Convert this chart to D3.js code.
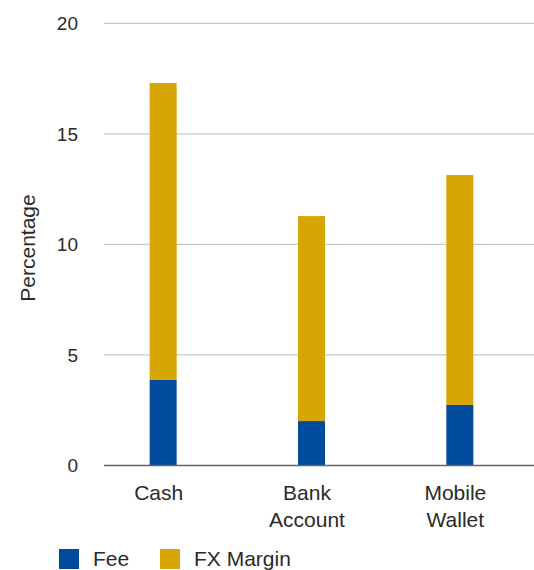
<!DOCTYPE html>
<html>
<head>
<meta charset="utf-8">
<script src="https://cdn.jsdelivr.net/npm/d3@7"></script>
<style>
  html, body { margin: 0; padding: 0; background: #fff; }
  svg { display: block; }
  text { font-family: "Liberation Sans", Arial, sans-serif; fill: #2a2a2a; }
</style>
</head>
<body>
<svg id="chart" width="534" height="570"></svg>
<script>
// Cost of sending remittances, by channel (percentage of amount sent)
const categories = [["Cash"], ["Bank", "Account"], ["Mobile", "Wallet"]];
const fee = [3.87, 2.01, 2.74];
const fxMargin = [13.43, 9.27, 10.40];
const yTicks = [0, 5, 10, 15, 20];
const seriesNames = ["Fee", "FX Margin"];
const seriesColors = ["#004b9b", "#d6a604"];

const svg = d3.select("#chart");
const keys = categories.map(c => c.join(" "));

const x = d3.scaleBand()
  .domain(keys)
  .range([89, 534])
  .paddingInner(0.818)
  .paddingOuter(0.409);

const y = d3.scaleLinear().domain([0, 20]).range([465.5, 23.3]);

// Horizontal gridlines
svg.append("g")
  .selectAll("line")
  .data(yTicks.filter(t => t > 0))
  .join("line")
  .attr("x1", 104).attr("x2", 534)
  .attr("y1", d => y(d)).attr("y2", d => y(d))
  .attr("stroke", "#c8c8c8").attr("stroke-width", 1.2);

// Y tick labels
svg.append("g")
  .selectAll("text")
  .data(yTicks)
  .join("text")
  .attr("x", 78)
  .attr("y", d => y(d))
  .attr("dy", "0.36em")
  .attr("text-anchor", "end")
  .attr("font-size", 19)
  .text(d => d);

// Stacked bars
const rows = keys.map((k, i) => ({ key: k, Fee: fee[i], "FX Margin": fxMargin[i] }));
const stacked = d3.stack().keys(seriesNames)(rows);

svg.append("g")
  .selectAll("g")
  .data(stacked)
  .join("g")
  .attr("fill", (d, i) => seriesColors[i])
  .selectAll("rect")
  .data(d => d)
  .join("rect")
  .attr("x", d => x(d.data.key))
  .attr("width", x.bandwidth())
  .attr("y", d => y(d[1]))
  .attr("height", d => y(d[0]) - y(d[1]));

// Baseline
svg.append("line")
  .attr("x1", 104).attr("x2", 534)
  .attr("y1", y(0)).attr("y2", y(0))
  .attr("stroke", "#666").attr("stroke-width", 1.6);

// Category labels
const catX = (i) => x(keys[i]) + x.bandwidth() / 2 - 4.5;
const catG = svg.append("g")
  .selectAll("text")
  .data(categories)
  .join("text")
  .attr("y", 500)
  .attr("text-anchor", "middle")
  .attr("font-size", 21);
catG.each(function (d, i) {
  d3.select(this).selectAll("tspan")
    .data(d)
    .join("tspan")
    .attr("x", catX(i))
    .attr("dy", (t, j) => j === 0 ? 0 : 27)
    .text(t => t);
});

// Y axis title
svg.append("text")
  .attr("transform", "translate(35,248) rotate(-90)")
  .attr("text-anchor", "middle")
  .attr("font-size", 21)
  .text("Percentage");

// Legend
const legendX = [59, 160];
const leg = svg.append("g")
  .selectAll("g")
  .data(seriesNames)
  .join("g")
  .attr("transform", (d, i) => `translate(${legendX[i]},549)`);
leg.append("rect")
  .attr("width", 20).attr("height", 20)
  .attr("fill", (d, i) => seriesColors[i]);
leg.append("text")
  .attr("x", 34).attr("y", 17)
  .attr("font-size", 21)
  .text(d => d);
</script>
</body>
</html>
